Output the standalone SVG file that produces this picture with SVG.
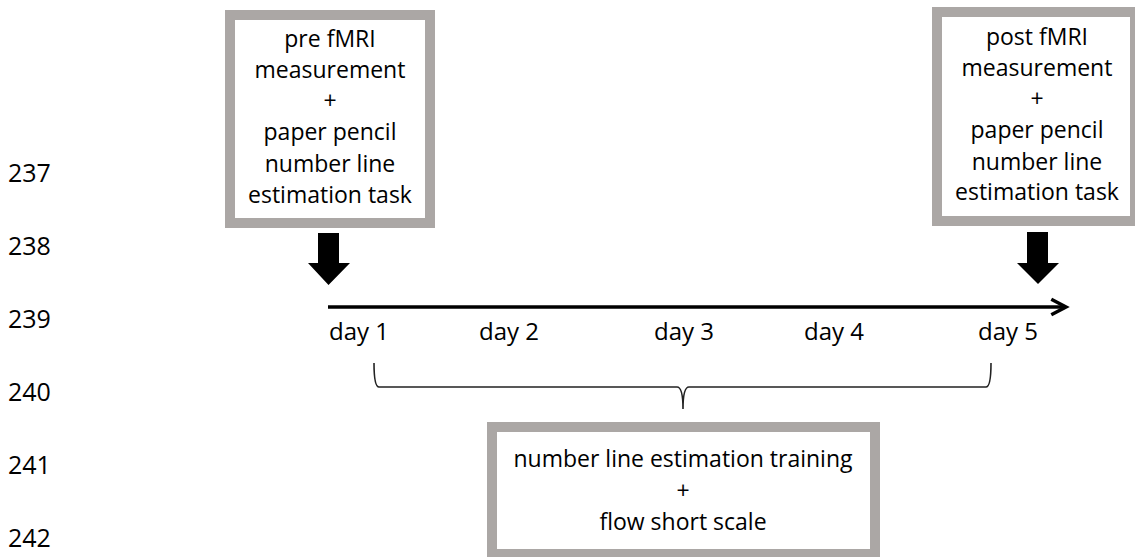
<svg xmlns="http://www.w3.org/2000/svg" width="1135" height="557" viewBox="0 0 1135 557">
<style>
text{font-family:"Open Sans","Noto Sans",sans-serif;font-size:23px;fill:#000}
.c{text-anchor:middle}
.d{font-size:24px}
.n{font-size:25px}
.box{fill:#fff;stroke:#aba7a5;stroke-width:10}
.big{fill:#000}
</style>
<defs>
<marker id="chev" markerWidth="6" markerHeight="6" refX="5" refY="3" orient="auto" markerUnits="strokeWidth">
<path d="M0.8,0.8 L5,3 L0.8,5.2" fill="none" stroke="#000" stroke-width="1"/>
</marker>
</defs>
<rect width="1135" height="557" fill="#fff"/>
<g id="line-numbers">
<text class="n" x="8" y="182">237</text>
<text class="n" x="8" y="255">238</text>
<text class="n" x="8" y="328">239</text>
<text class="n" x="8" y="401">240</text>
<text class="n" x="8" y="474">241</text>
<text class="n" x="8" y="547">242</text>
</g>
<g id="pre">
<rect class="box" x="230" y="15" width="200" height="208"/>
<text class="c" x="330" y="47">pre fMRI</text>
<text class="c" x="330" y="78">measurement</text>
<text class="c" x="330" y="109">+</text>
<text class="c" x="330" y="140">paper pencil</text>
<text class="c" x="330" y="172">number line</text>
<text class="c" x="330" y="203">estimation task</text>
</g>
<g id="post">
<rect class="box" x="937" y="12" width="198" height="209"/>
<text class="c" x="1037" y="45">post fMRI</text>
<text class="c" x="1037" y="76">measurement</text>
<text class="c" x="1037" y="107">+</text>
<text class="c" x="1037" y="138">paper pencil</text>
<text class="c" x="1037" y="170">number line</text>
<text class="c" x="1037" y="200">estimation task</text>
</g>
<g id="training">
<rect class="box" x="492" y="427" width="383" height="127"/>
<text class="c" x="683" y="467">number line estimation training</text>
<text class="c" x="683" y="499">+</text>
<text class="c" x="683" y="530">flow short scale</text>
</g>
<g id="days">
<text class="c d" x="359" y="340">day 1</text>
<text class="c d" x="509" y="340">day 2</text>
<text class="c d" x="684" y="340">day 3</text>
<text class="c d" x="834" y="340">day 4</text>
<text class="c d" x="1008" y="340">day 5</text>
</g>
<g id="connectors">
<path class="big" d="M318,233 H339 V263 H350 L328.5,285 L308,263 H318 Z"/>
<path class="big" d="M1027,232 H1048 V263 H1059 L1038,284 L1017,263 H1027 Z"/>
<line x1="328" y1="307" x2="1066" y2="307" stroke="#000" stroke-width="3.5" marker-end="url(#chev)"/>
<path d="M374,363 Q374,387 379,387 L677,387 Q683,387 683,409 Q683,387 689,387 L986,387 Q991,387 991,363" fill="none" stroke="#222" stroke-width="1.6"/>
</g>
</svg>
